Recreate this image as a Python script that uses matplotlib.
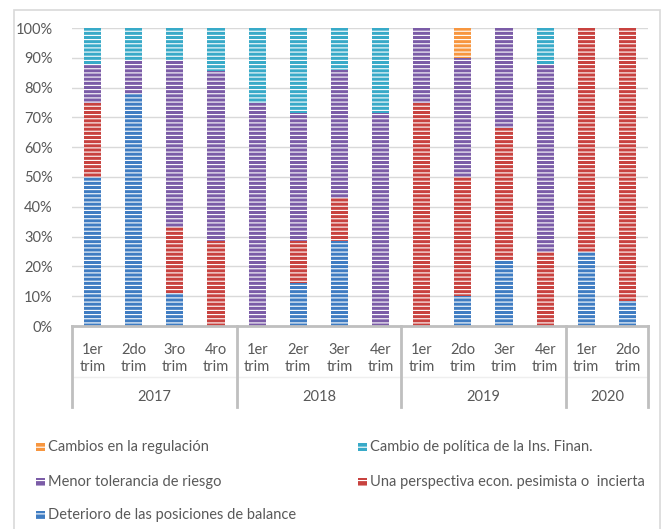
import matplotlib
matplotlib.use("Agg")
import matplotlib.pyplot as plt
from matplotlib.patches import Rectangle
import matplotlib.transforms as mtransforms

# data (shares in %)
quarters = ["1er\ntrim", "2do\ntrim", "3ro\ntrim", "4ro\ntrim",
            "1er\ntrim", "2er\ntrim", "3er\ntrim", "4er\ntrim",
            "1er\ntrim", "2do\ntrim", "3er\ntrim", "4er\ntrim",
            "1er\ntrim", "2do\ntrim"]
years = ["2017", "2018", "2019", "2020"]
year_sizes = [4, 4, 4, 2]

deterioro = [50, 77.8, 11.1, 0, 0, 14.3, 28.6, 0, 0, 10, 22.2, 0, 25, 8.3]
perspectiva = [25, 0, 22.2, 28.6, 0, 14.3, 14.3, 0, 75, 40, 44.4, 25, 75, 91.7]
tolerancia = [12.5, 11.1, 55.6, 57.1, 75, 42.9, 42.9, 71.4, 25, 40, 33.3, 62.5, 0, 0]
politica = [12.5, 11.1, 11.1, 14.3, 25, 28.6, 14.3, 28.6, 0, 0, 0, 12.5, 0, 0]
regulacion = [0, 0, 0, 0, 0, 0, 0, 0, 0, 10, 0, 0, 0, 0]

series = [
    ("Deterioro de las posiciones de balance", deterioro, "#3F7CC2"),
    ("Una perspectiva econ. pesimista o  incierta", perspectiva, "#C8423F"),
    ("Menor tolerancia de riesgo", tolerancia, "#7B5CA7"),
    ("Cambio de política de la Ins. Finan.", politica, "#38AAC8"),
    ("Cambios en la regulación", regulacion, "#F7963F"),
]

plt.rcParams['font.family'] = ['Lato', 'DejaVu Sans']
plt.rcParams['hatch.color'] = 'white'
plt.rcParams['hatch.linewidth'] = 0.8
txt = "#595959"
fs = 10.5

fig = plt.figure(figsize=(6.66, 5.29), dpi=100)
W, H = 666, 529

# outer chart border
fig.add_artist(Rectangle((14 / W, -0.01), (660 - 14) / W, 1 - 10 / H + 0.01,
                         transform=fig.transFigure, fill=False,
                         edgecolor="#D9D9D9", lw=1.2))

ax = fig.add_axes([72 / W, 1 - 326 / H, (648 - 72) / W, (326 - 28) / H])

x = list(range(len(quarters)))
bottom = [0] * len(x)
for name, vals, col in series:
    ax.bar(x, vals, 0.42, bottom=bottom, color=col, edgecolor="white",
           linewidth=0, hatch="----", zorder=3)
    bottom = [b + v for b, v in zip(bottom, vals)]

ax.set_xlim(-0.5, len(x) - 0.5)
ax.set_ylim(0, 100)
ax.set_yticks(range(0, 101, 10))
ax.set_yticklabels([f"{v}%" for v in range(0, 101, 10)], color=txt, fontsize=fs)
ax.tick_params(axis="y", length=0, pad=14)
ax.set_xticks([])
ax.grid(axis="y", color="#D9D9D9", lw=1, zorder=0)
for s in ["top", "right", "left"]:
    ax.spines[s].set_visible(False)
ax.spines["bottom"].set_color("#BFBFBF")
ax.spines["bottom"].set_linewidth(2)
ax.spines["bottom"].set_zorder(4)

trans = mtransforms.blended_transform_factory(ax.transData, ax.transAxes)
for xi, lab in zip(x, quarters):
    ax.text(xi, -0.108, lab, transform=trans, ha="center", va="center",
            color=txt, fontsize=fs, linespacing=1.3)

edges = [-0.5]
for n in year_sizes:
    edges.append(edges[-1] + n)
for i, yr in enumerate(years):
    ax.text((edges[i] + edges[i + 1]) / 2, -0.239, yr, transform=trans,
            ha="center", va="center", color=txt, fontsize=fs)
for e in edges:
    ax.plot([e, e], [0, -0.273], transform=trans, color="#BFBFBF", lw=2,
            clip_on=False, zorder=4)
ax.plot([-0.5, len(x) - 0.5], [-0.172, -0.172], transform=trans,
        color="#EFEFEF", lw=1, clip_on=False)

# legend, two columns laid out like the reference
leg_items = [
    (series[4], 36, 447), (series[3], 358, 447),
    (series[2], 36, 482), (series[1], 358, 482),
    (series[0], 36, 515),
]
for (name, vals, col), px, py in leg_items:
    fig.add_artist(Rectangle((px / W, 1 - (py + 4) / H), 9 / W, 8 / H,
                             transform=fig.transFigure, facecolor=col,
                             edgecolor="white", lw=0, hatch="---"))
    fig.text((px + 12) / W, 1 - py / H, name, ha="left", va="center",
             color=txt, fontsize=fs)

fig.savefig("out.png", dpi=100)
